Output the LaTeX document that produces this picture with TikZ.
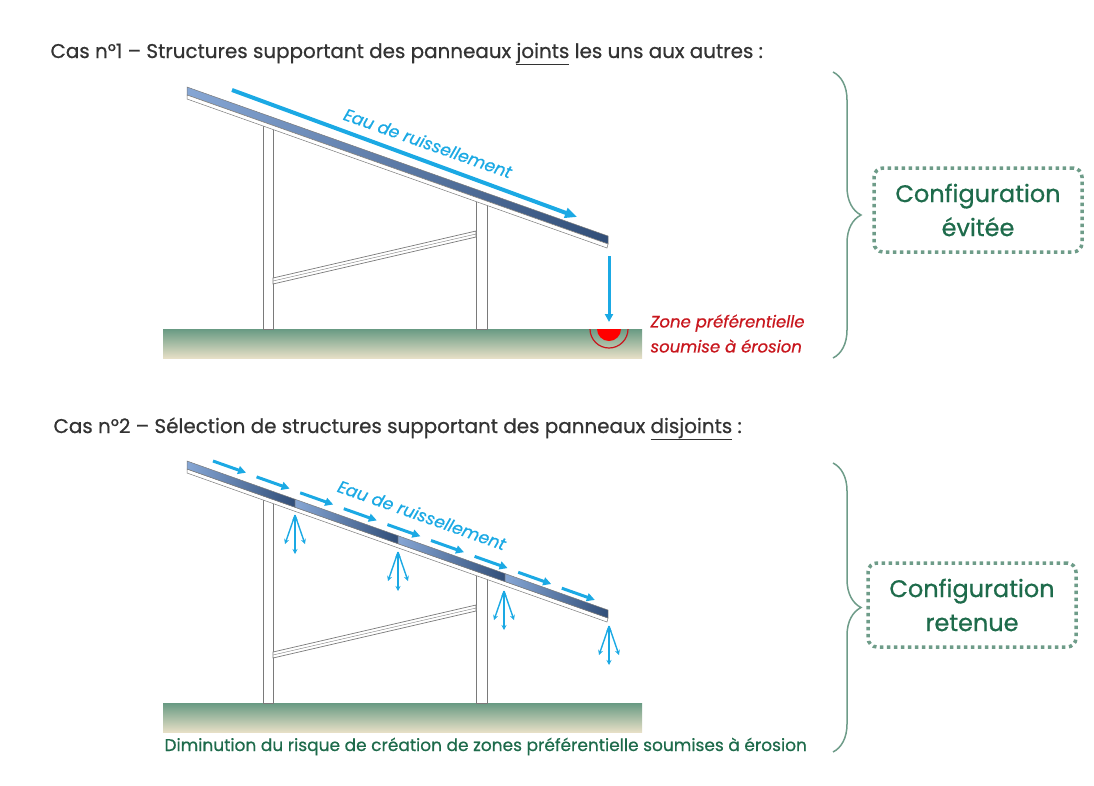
\documentclass[tikz,border=0pt]{standalone}
\usepackage{fontspec}
\setmainfont{Poppins}[FakeBold=0.7]
\usepackage{xcolor}
\usetikzlibrary{arrows.meta,decorations.pathreplacing}

\definecolor{bleueau}{HTML}{1BA9E4}
\definecolor{panclair}{HTML}{86A6D4}
\definecolor{panfonce}{HTML}{314E78}
\definecolor{cadre}{HTML}{7A7A7A}
\definecolor{soltop}{HTML}{689A83}
\definecolor{solbas}{HTML}{E6DFC6}
\definecolor{rougeero}{HTML}{C8161D}
\definecolor{vertcadre}{HTML}{6E9C89}
\definecolor{vertfonce}{HTML}{1E6B4B}
\definecolor{gristitre}{HTML}{333333}

\begin{document}
\begin{tikzpicture}[x=1pt, y=-1pt,
    ruissel/.style={bleueau, line width=3pt, -{Triangle[length=8pt,width=8pt]}},
    goutte/.style={bleueau, line width=1.4pt, -{Stealth[length=5pt,width=5pt]}},
    montant/.style={fill=white, draw=cadre, line width=0.7pt},
    titre/.style={anchor=base west, text=gristitre, font=\fontsize{19.9}{24}\selectfont},
    eau/.style={rotate=-19.5, text=bleueau, font=\fontsize{17}{19}\selectfont\itshape},
    config/.style={draw=vertcadre, line width=3.5pt, dash pattern=on 3.5pt off 3.5pt,
        rounded corners=9pt, minimum width=208pt, minimum height=84pt,
        align=center, text=vertfonce, font=\fontsize{24}{34}\selectfont},
    accolade/.style={draw=vertcadre, line width=1.5pt, decorate,
        decoration={brace, amplitude=28pt}}]

    \useasboundingbox (0,0) rectangle (1094,785);

    % sol, montants et entretoise (deux fois)
    \foreach \dy in {0,374} {
    \begin{scope}[shift={(0,\dy)}]
        \shade[top color=soltop, bottom color=solbas] (163,329) rectangle (642,358);
        \filldraw[montant] (263,124) rectangle (273,329);
        \filldraw[montant] (476,199) rectangle (487,329);
        \filldraw[montant] (273,278) -- (476,231) -- (476,237) -- (273,284) -- cycle;
        \draw[cadre, line width=0.4pt] (273,281) -- (476,234);
    \end{scope}
    }

    % Cas 1 : panneau continu
    \node[titre] (titre1) at (47,58) {Cas n°1 – Structures supportant des panneaux \underline{joints} les uns aux autres :};
    \shade[left color=panclair, right color=panfonce, draw=cadre, line width=0.5pt]
        (187,87) -- (608,236) -- (608,244) -- (187,95) -- cycle;
    \filldraw[montant, line width=0.5pt] (187,95) -- (608,244) -- (607,248) -- (187,99) -- cycle;

    \coordinate (haut1) at (232,90);
    \coordinate (bas1) at (577,217);
    \draw[ruissel, line width=4pt, -{Triangle[length=12pt,width=10pt]}] (haut1) -- (bas1);
    \node[eau] (eau1) at (428,143) {Eau de ruissellement};

    \coordinate (chute) at (609,256);
    \coordinate (impact) at (609,322);
    \draw[ruissel] (chute) -- (impact);

    % zone d'érosion
    \begin{scope}
        \clip (585,329) rectangle (635,358);
        \fill[red] (609,329) circle[radius=12];
        \draw[rougeero, line width=1.2pt] (609,329) circle[radius=19];
    \end{scope}
    \node[anchor=north west, align=left, text=rougeero,
        font=\fontsize{16.5}{25}\selectfont\itshape] (zone) at (647,311) {Zone préférentielle\\soumise à érosion};

    % Cas 2 : panneaux disjoints
    \node[titre] (titre2) at (50,433) {Cas n°2 – Sélection de structures supportant des panneaux \underline{disjoints} :};
    \filldraw[montant, line width=0.5pt] (187,469) -- (608,618) -- (607,622) -- (187,473) -- cycle;
    \foreach \a/\b in {187/295,295/398,398/505,505/608} {
        \shade[left color=panclair, right color=panfonce, draw=cadre, line width=0.5pt]
            (\a,{461+(\a-187)*0.354}) -- (\b,{461+(\b-187)*0.354})
            -- (\b,{469+(\b-187)*0.354}) -- (\a,{469+(\a-187)*0.354}) -- cycle;
    }

    % ruissellement par petits tronçons
    \foreach \i in {0,...,8}
        \draw[ruissel] ({213+43.6*\i},{461+15.9*\i}) -- ++(33,11.7);
    \node[eau] (eau2) at (422,515) {Eau de ruissellement};

    % gouttes aux jonctions
    \foreach \x/\y in {295/515,398/552,504/591,609/626} {
        \draw[goutte] (\x,\y) -- ++(-10,29);
        \draw[goutte] (\x,\y) -- ++(10,29);
        \draw[goutte, {Stealth[length=5pt,width=5pt]}-{Stealth[length=5pt,width=5pt]}] (\x,\y) -- ++(0,39);
    }

    \node[anchor=base west, text=vertfonce, font=\fontsize{17}{20}\selectfont] (bilan) at (161,751)
        {Diminution du risque de création de zones préférentielle soumises à érosion};

    % accolades et conclusions
    \coordinate (acc1h) at (833,72);
    \coordinate (acc1b) at (833,358);
    \coordinate (acc2h) at (833,463);
    \coordinate (acc2b) at (833,752);
    \draw[accolade] (acc1h) -- (acc1b);
    \draw[accolade] (acc2h) -- (acc2b);
    \node[config] (evitee) at (978,210) {Configuration\\évitée};
    \node[config] (retenue) at (972,605) {Configuration\\retenue};
\end{tikzpicture}
\end{document}
